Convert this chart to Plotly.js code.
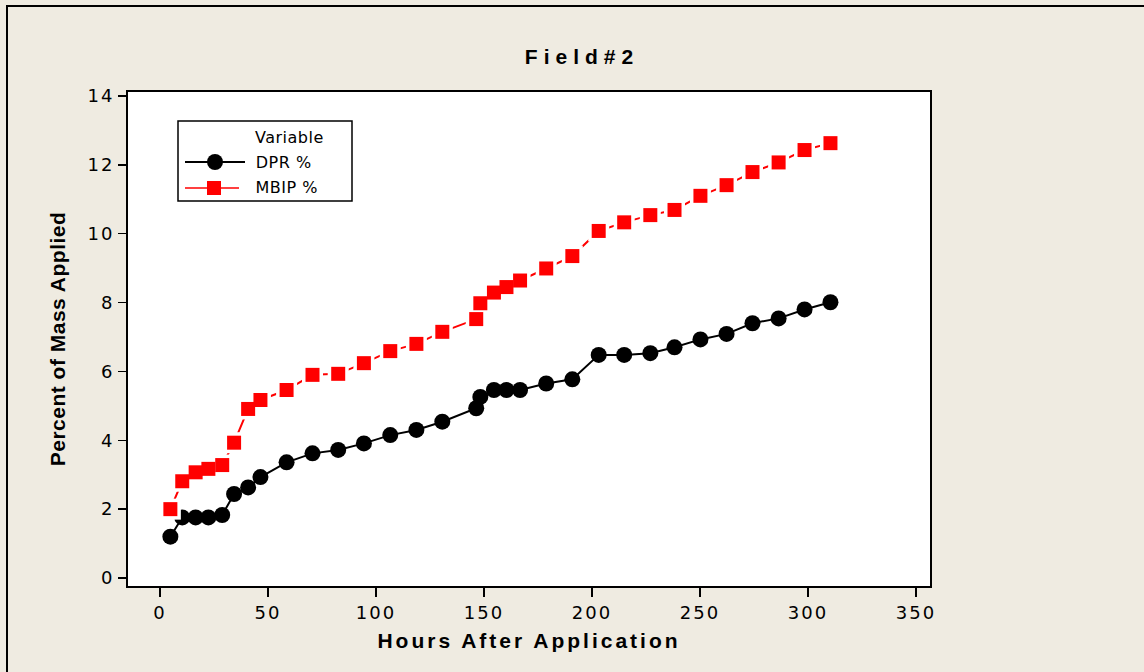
<!DOCTYPE html>
<html>
<head>
<meta charset="utf-8">
<script src="https://cdn.plot.ly/plotly-3.0.1.min.js"></script>
<style>
html,body{margin:0;padding:0;background:#EFEBE1;}
#chart .gtitle{letter-spacing:6px;}
#chart .xtitle{letter-spacing:3px;}
#chart .ytitle{letter-spacing:0.5px;}
#chart .xtick text, #chart .ytick text{letter-spacing:2px;}
#chart .annotation-text{letter-spacing:0.5px;}
</style>
</head>
<body>
<div id="chart" style="width:1144px;height:672px;"></div>
<script>
// Data
const hours = [4.8, 10.3, 16.5, 22.4, 28.8, 34.3, 40.8, 46.5, 58.6, 70.6, 82.5, 94.4, 106.6, 118.7, 130.7,
  146.4, 148.3, 154.6, 160.4, 166.7, 178.8, 190.9, 203.1, 214.9, 227.0, 238.2, 250.2, 262.3, 274.3, 286.4, 298.4, 310.4];
const dprPct = [1.20, 1.76, 1.76, 1.76, 1.83, 2.44, 2.63, 2.93, 3.36, 3.62, 3.72, 3.91, 4.15, 4.30, 4.54,
  4.93, 5.26, 5.46, 5.46, 5.46, 5.65, 5.77, 6.48, 6.48, 6.53, 6.70, 6.93, 7.09, 7.40, 7.54, 7.80, 8.01];
const mbipPct = [2.00, 2.81, 3.07, 3.17, 3.28, 3.93, 4.91, 5.17, 5.46, 5.90, 5.93, 6.24, 6.59, 6.80, 7.15,
  7.52, 7.98, 8.29, 8.45, 8.64, 8.99, 9.35, 10.08, 10.33, 10.54, 10.69, 11.10, 11.41, 11.79, 12.07, 12.43, 12.63];
const seriesNames = ["DPR %", "MBIP %"];
const legendTitle = "Variable";
const xTicks = [0, 50, 100, 150, 200, 250, 300, 350];
const yTicks = [0, 2, 4, 6, 8, 10, 12, 14];

// Plot-area geometry (pixels) for converting the hand-built legend into paper coords
const L = 128, R = 930, T = 92, B = 586, W = 1144, H = 672;
const px = v => (v - L) / (R - L);
const py = v => (B - v) / (B - T);

const traces = [
  {x: hours, y: dprPct, name: seriesNames[0], mode: "lines+markers", type: "scatter",
   line: {color: "#000000", width: 2}, marker: {symbol: "circle", size: 16, color: "#000000"}},
  {x: hours, y: mbipPct, name: seriesNames[1], mode: "lines", type: "scatter",
   line: {color: "#FF0000", width: 2}},
  {x: hours, y: mbipPct, name: "halo", mode: "markers", type: "scatter",
   marker: {symbol: "square", size: 21, color: "#FFFFFF"}},
  {x: hours, y: mbipPct, name: seriesNames[1], mode: "markers", type: "scatter",
   marker: {symbol: "square", size: 14, color: "#FF0000"}}
];

const shapes = [
  // outer frame
  {type: "rect", xref: "paper", yref: "paper", x0: px(7), x1: px(1180), y0: py(700), y1: py(6),
   line: {color: "#000000", width: 2}, fillcolor: "rgba(0,0,0,0)", layer: "below"},
  // legend box
  {type: "rect", xref: "paper", yref: "paper", x0: px(178), x1: px(352), y0: py(201), y1: py(121),
   line: {color: "#000000", width: 1.5}, fillcolor: "#FFFFFF"},
  {type: "line", xref: "paper", yref: "paper", x0: px(185), x1: px(245), y0: py(162), y1: py(162),
   line: {color: "#000000", width: 2}},
  {type: "circle", xref: "paper", yref: "paper", x0: px(207), x1: px(223), y0: py(170), y1: py(154),
   line: {color: "#000000", width: 0}, fillcolor: "#000000"},
  {type: "line", xref: "paper", yref: "paper", x0: px(185), x1: px(239), y0: py(188), y1: py(188),
   line: {color: "#FF0000", width: 1.5}},
  {type: "rect", xref: "paper", yref: "paper", x0: px(207), x1: px(221), y0: py(195), y1: py(181),
   line: {color: "#FF0000", width: 0}, fillcolor: "#FF0000"}
];

const legFont = {family: "DejaVu Sans", size: 16, color: "#000000"};
const annotations = [
  {text: legendTitle, xref: "paper", yref: "paper", x: px(255), y: py(137), xanchor: "left", yanchor: "middle", showarrow: false, font: legFont},
  {text: seriesNames[0], xref: "paper", yref: "paper", x: px(255), y: py(162), xanchor: "left", yanchor: "middle", showarrow: false, font: legFont},
  {text: seriesNames[1], xref: "paper", yref: "paper", x: px(255), y: py(188), xanchor: "left", yanchor: "middle", showarrow: false, font: legFont}
];

const layout = {
  width: W, height: H,
  paper_bgcolor: "#EFEBE1", plot_bgcolor: "#FFFFFF",
  margin: {l: L, r: W - R, t: T, b: H - B, pad: 0},
  showlegend: false,
  title: {text: "Field#2", x: 582 / W, xanchor: "center", y: 1 - 57 / H, yanchor: "middle",
          font: {family: "Liberation Sans", size: 21, color: "#000000", weight: "bold"}},
  xaxis: {
    range: [(L - 160) / 2.16, (R - 160) / 2.16],
    tickvals: xTicks, ticktext: xTicks.map(String),
    ticks: "outside", ticklen: 9, tickwidth: 1.5, tickcolor: "#000000",
    showline: true, mirror: true, linecolor: "#000000", linewidth: 2,
    showgrid: false, zeroline: false,
    tickfont: {family: "DejaVu Sans", size: 18, color: "#000000"},
    title: {text: "Hours After Application", standoff: 12,
            font: {family: "Liberation Sans", size: 21, color: "#000000", weight: "bold"}}
  },
  yaxis: {
    range: [(578 - B) / 34.43, (578 - T) / 34.43],
    tickvals: yTicks, ticktext: yTicks.map(String),
    ticks: "outside", ticklen: 8, tickwidth: 1.5, tickcolor: "#000000",
    showline: true, mirror: true, linecolor: "#000000", linewidth: 2,
    showgrid: false, zeroline: false,
    tickfont: {family: "DejaVu Sans", size: 18, color: "#000000"},
    title: {text: "Percent of Mass Applied", standoff: 20,
            font: {family: "Liberation Sans", size: 21, color: "#000000", weight: "bold"}}
  },
  shapes: shapes,
  annotations: annotations
};

Plotly.newPlot("chart", traces, layout, {displayModeBar: false, staticPlot: true});
</script>
</body>
</html>
